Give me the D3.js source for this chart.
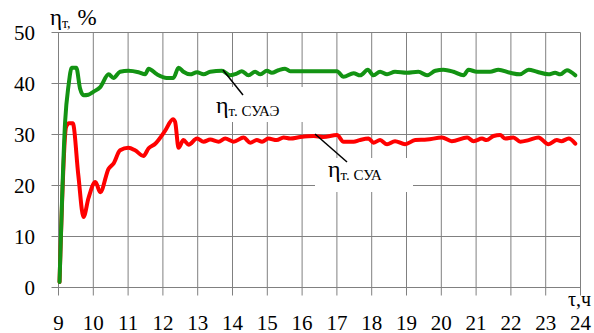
<!DOCTYPE html>
<html>
<head>
<meta charset="utf-8">
<script src="https://cdn.jsdelivr.net/npm/d3@7"></script>
<style>
  body{margin:0;background:#fff}
</style>
</head>
<body>
<svg id="chart" width="594" height="333"></svg>
<script>
const xTicks = [9,10,11,12,13,14,15,16,17,18,19,20,21,22,23,24]
const yTicks = [0,10,20,30,40,50]

// ηт. СУАЭ (green)
const suaeT = [9.03,9.19,9.29,9.38,9.51,9.62,9.72,9.86,10.01,10.2,10.44,10.58,10.77,11.01,11.3,11.49,11.59,11.83,12.11,12.3,12.45,12.59,12.78,12.98,13.17,13.36,13.7,13.93,14.1,14.27,14.46,14.65,14.8,14.99,15.13,15.32,15.51,15.66,16.0,16.5,17.0,17.19,17.48,17.67,17.89,18.05,18.24,18.44,18.67,19.01,19.34,19.59,19.83,20.06,20.35,20.64,20.78,21.02,21.4,21.64,21.98,22.26,22.51,22.75,23.08,23.27,23.42,23.61,23.85]
const suaeV = [1.1,32.5,39.7,43.1,43.1,39.0,37.7,37.8,38.4,39.3,41.8,41.1,42.3,42.5,42.2,41.8,42.9,41.8,41.1,41.1,43.1,42.3,41.8,42.2,41.8,42.3,42.5,41.6,41.9,42.4,41.6,42.3,41.8,42.5,42.1,42.6,42.9,42.4,42.4,42.4,42.4,41.3,42.0,41.6,42.7,41.6,42.3,41.8,42.3,42.1,42.3,41.6,42.5,42.7,42.3,41.6,42.7,42.3,42.3,42.7,42.1,41.8,42.7,42.3,41.8,42.1,41.8,42.6,41.6]

// ηт. СУА (red)
const suaT = [9.03,9.22,9.3,9.41,9.57,9.72,9.86,10.06,10.2,10.44,10.58,10.77,11.01,11.2,11.44,11.59,11.78,12.07,12.29,12.35,12.45,12.59,12.74,12.98,13.17,13.36,13.6,13.79,14.03,14.32,14.51,14.7,14.85,15.03,15.27,15.47,15.66,15.95,16.33,16.61,17.0,17.19,17.48,17.65,17.91,18.05,18.24,18.44,18.67,18.96,19.25,19.59,20.02,20.3,20.74,20.93,21.17,21.3,21.5,21.69,21.84,22.07,22.27,22.51,22.79,23.08,23.32,23.45,23.66,23.85]
const suaV = [1.1,31.5,32.2,32.2,22.0,13.8,17.5,20.7,18.7,23.3,24.3,26.9,27.4,26.9,25.8,27.3,28.2,30.8,33.0,32.5,27.4,28.9,28.0,29.2,28.6,29.0,28.6,29.2,28.6,29.4,28.4,28.9,28.6,29.2,28.9,29.4,29.2,29.5,29.7,29.5,29.9,28.6,28.6,28.9,29.2,28.4,28.9,28.1,28.7,28.1,28.9,29.0,29.4,28.7,29.4,28.7,29.2,28.9,29.7,29.9,29.2,29.4,28.6,28.9,29.4,28.1,28.9,28.7,29.2,28.2]

const FONT = "'Liberation Serif', 'Times New Roman', serif"
const svg = d3.select('#chart')
const x = d3.scaleLinear().domain([9,24]).range([58.5,580.5])
const y = d3.scaleLinear().domain([0,50]).range([287.5,32.5])
const grid = '#808080'

let g = svg.append('g').style('font-family', FONT)

// grid + ticks
g.selectAll('.hl').data(yTicks).join('line')
  .attr('x1', x(9)-7).attr('x2', x(24))
  .attr('y1', d=>y(d)).attr('y2', d=>y(d))
  .attr('stroke', grid)
g.selectAll('.vl').data(xTicks).join('line')
  .attr('x1', d=>x(d)).attr('x2', d=>x(d))
  .attr('y1', y(50)).attr('y2', y(0)+8)
  .attr('stroke', grid)

g.selectAll('.yt').data(yTicks).join('text')
  .attr('x', 35).attr('y', d=>y(d)+7)
  .attr('text-anchor','end')
  .style('font-size','21px')
  .text(d=>d)
g.selectAll('.xt').data(xTicks).join('text')
  .attr('x', d=>x(d)).attr('y', 330)
  .attr('text-anchor','middle')
  .style('font-size','21px')
  .text(d=>d)

// label backgrounds hide the grid
g.append('rect').attr('x',213).attr('y',87).attr('width',92).attr('height',35).attr('fill','#fff')
g.append('rect').attr('x',315).attr('y',158).attr('width',98).attr('height',34).attr('fill','#fff')

const line = d3.line().x(d=>x(d[0])).y(d=>y(d[1])).curve(d3.curveMonotoneX)

g.append('path')
  .datum(d3.zip(suaT, suaV))
  .attr('d', line)
  .attr('fill','none').attr('stroke','#ff0000')
  .attr('stroke-width',4).attr('stroke-linejoin','round').attr('stroke-linecap','round')
g.append('path')
  .datum(d3.zip(suaeT, suaeV))
  .attr('d', line)
  .attr('fill','none').attr('stroke','#139313')
  .attr('stroke-width',4).attr('stroke-linejoin','round').attr('stroke-linecap','round')

// leaders
g.append('line').attr('x1',223).attr('y1',70).attr('x2',243).attr('y2',95)
  .attr('stroke','#000').attr('stroke-width',1.5)
g.append('line').attr('x1',315).attr('y1',134).attr('x2',347).attr('y2',162)
  .attr('stroke','#000').attr('stroke-width',1.5)

function label(px, py, sub){
  let t = g.append('text').attr('x',px).attr('y',py).style('font-size','24px')
  t.append('tspan').text('η')
  t.append('tspan').attr('dy',3).style('font-size','15px').text(sub)
  return t
}
label(216, 113, 'т. СУАЭ')
label(328, 177, 'т. СУА')

// axis titles
let yt = g.append('text').attr('x',50).attr('y',25).style('font-size','23px')
yt.append('tspan').text('η')
yt.append('tspan').attr('dy',3).style('font-size','14px').text('т,')
yt.append('tspan').attr('dy',-3).attr('dx',7).text('%')

g.append('text').attr('x',591).attr('y',306).attr('text-anchor','end')
  .style('font-size','20px').text('τ,ч')
</script>
</body>
</html>
